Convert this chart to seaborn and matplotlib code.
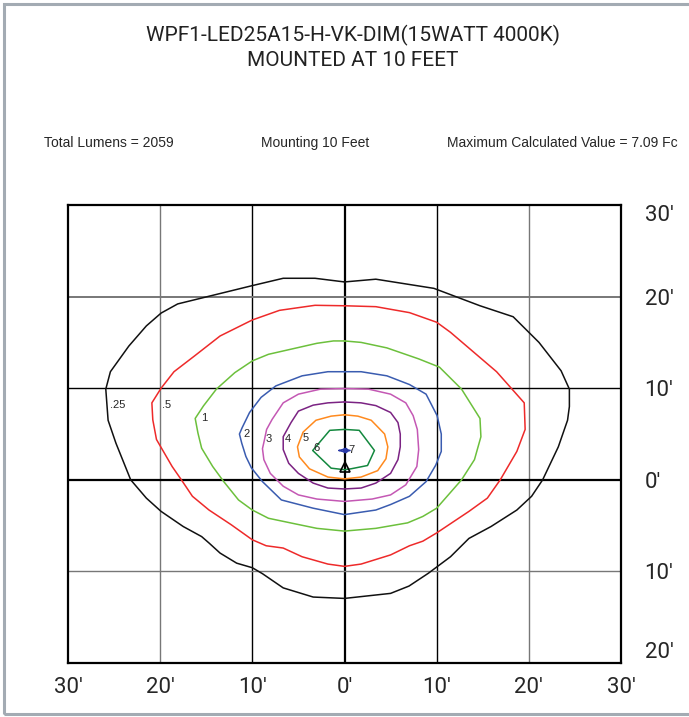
import matplotlib
matplotlib.use("Agg")
import matplotlib.pyplot as plt
import matplotlib.patches as patches
import pandas as pd
import seaborn as sns

sns.set_theme(style="white")
plt.rcParams['font.family'] = ['Liberation Sans', 'DejaVu Sans']

# isofootcandle contours (feet)
c025_x = [0, 3.4, 9.7, 14.7, 18.3, 21.1, 23.5, 24.4, 24.4, 24.2, 23.2, 21.5, 20.3, 18.7, 15.9, 13.5,
          11.5, 9.1, 7.0, 5.0, 0, -3.4, -6.65, -8.9, -10, -11.7, -13.5, -14.7, -15.5, -17.5, -19.9,
          -21.5, -23.2, -24.8, -25.65, -25.9, -25.4, -23.4, -21.5, -19.9, -18.1, -10, -6.65, -3.2, 0]
c025_y = [21.6, 21.9, 20.9, 19.0, 17.8, 15.0, 11.9, 9.9, 8.0, 6.5, 3.6, 0, -1.8, -3.3, -5.1, -6.4,
          -8.4, -10.2, -11.6, -12.4, -12.95, -12.8, -11.8, -10.25, -9.6, -9.1, -8.0, -6.9, -6.2, -5.1,
          -3.45, -2.0, 0, 4.0, 6.5, 9.9, 11.8, 14.6, 16.8, 18.2, 19.2, 21.2, 22.0, 22.0, 21.6]

c05_x = [0, 3.4, 7.05, 10, 11.5, 16.5, 19.5, 19.6, 18.7, 16.9, 15.5, 13.5, 10, 8.5, 7.05, 5.0, 1.8, 0,
         -1.8, -4.6, -6.65, -8.5, -10, -12.3, -14.7, -16.5, -17.7, -18.7, -20.4, -20.8, -20.9, -19.9,
         -18.5, -16.3, -13.5, -10, -7.05, -3.2, 0]
c05_y = [19.0, 18.9, 18.25, 17.2, 16.1, 11.8, 8.4, 5.5, 3.1, 0, -2.0, -3.45, -5.8, -6.7, -7.2, -8.2,
         -9.2, -9.45, -9.2, -8.4, -7.45, -7.2, -6.55, -4.9, -3.3, -1.8, 0, 1.45, 4.4, 6.55, 8.4, 10.0,
         11.8, 13.5, 15.7, 17.45, 18.5, 19.05, 19.0]

c1_x = [0, 1.8, 4.6, 8.05, 10.3, 12.7, 14.7, 14.8, 14.1, 12.7, 10, 8.5, 6.85, 3.4, 0, -3.0, -5.4,
        -8.25, -10, -11.5, -13.1, -14.3, -15.5, -15.9, -16.2, -15.3, -13.9, -11.9, -10, -8.25, -3.0, -1.2, 0]
c1_y = [15.16, 15.0, 14.4, 13.2, 12.3, 9.9, 6.7, 4.7, 2.2, 0, -3.1, -4.0, -4.7, -5.3, -5.6, -5.3, -4.8,
        -4.2, -3.3, -2.2, -0.2, 1.45, 3.45, 5.1, 6.7, 8.07, 9.9, 11.7, 12.98, 13.7, 14.9, 15.16, 15.16]

c2_x = [0, 1.8, 4.6, 7.05, 8.85, 10.05, 10.5, 10.5, 9.9, 8.85, 7.05, 5.0, 3.4, 0, -3.4, -6.85, -8.9,
        -10.1, -10.7, -11.15, -11.4, -11.1, -10.3, -9.05, -7.45, -4.6, -1.8, 0]
c2_y = [11.8, 11.8, 11.35, 10.4, 9.35, 7.0, 5.0, 3.1, 1.6, -0.2, -1.8, -2.7, -3.3, -3.8, -3.1, -2.2,
        -0.2, 1.3, 2.55, 4.0, 5.0, 5.7, 7.35, 9.0, 10.25, 11.35, 11.8, 11.8]

c3_x = [0, 2.6, 5.0, 6.65, 7.45, 7.9, 8.05, 7.85, 6.65, 5.0, 3.0, 0, -3.0, -5.0, -6.65, -8.05, -8.75,
        -8.9, -8.7, -8.45, -7.85, -6.65, -5.0, -2.6, 0]
c3_y = [9.96, 9.9, 9.35, 8.4, 7.0, 5.5, 3.3, 1.45, -0.55, -1.65, -2.1, -2.36, -2.1, -1.65, -0.7, 0.7,
        2.2, 3.4, 4.3, 5.5, 6.6, 8.4, 9.35, 9.9, 9.96]

c4_x = [0, 1.8, 3.4, 5.0, 5.8, 6.05, 6.05, 5.8, 5.0, 3.4, 1.8, 0, -1.8, -3.4, -5.0, -6.05, -6.65,
        -6.65, -5.8, -5.0, -3.4, -1.8, 0]
c4_y = [8.5, 8.4, 8.1, 7.35, 6.25, 5.0, 3.6, 2.2, 0.7, -0.36, -0.9, -1.0, -0.9, -0.36, 0.7, 1.8,
        3.3, 4.7, 6.25, 7.5, 8.15, 8.4, 8.5]

c5_x = [0, 1.45, 2.9, 4.35, 4.7, 4.5, 3.6, 1.8, 0, -1.8, -3.8, -4.9, -5.1, -4.5, -3.1, -1.45, 0]
c5_y = [7.1, 6.95, 6.5, 5.0, 3.6, 2.3, 1.0, 0.3, 0.1, 0.3, 1.2, 2.5, 3.6, 5.2, 6.5, 6.95, 7.1]

c6_x = [0, 1.6, 3.25, 2.5, 0.7, 0, -1.45, -3.45, -1.6, 0]
c6_y = [5.5, 5.4, 3.2, 1.56, 1.2, 1.1, 1.27, 3.2, 5.4, 5.5]

c7_x = [-0.6, 0, 0.6, 0, -0.6]
c7_y = [3.2, 3.35, 3.2, 3.05, 3.2]

levels = ['.25', '.5', '1', '2', '3', '4', '5', '6', '7']
level_colors = ['#111111', '#ee2a2a', '#6cc03c', '#3a5cb0', '#c458b4', '#7b2383', '#ff8a1e',
                '#13883e', '#2a3aa8']
label_x = [-24.6, -19.3, -15.2, -10.6, -8.2, -6.1, -4.2, -3.0, 0.75]
label_y = [8.2, 8.2, 6.8, 5.0, 4.4, 4.4, 4.6, 3.5, 3.3]

luminaire = (0, 1.35)
ticks = [-30, -20, -10, 0, 10, 20, 30]
tick_text = ["30\u2032", "20\u2032", "10\u2032", "0\u2032", "10\u2032", "20\u2032", "30\u2032"]
yticks = [-20, -10, 0, 10, 20, 30]
ytick_text = ["20\u2032", "10\u2032", "0\u2032", "10\u2032", "20\u2032", "30\u2032"]

xs = [c025_x, c05_x, c1_x, c2_x, c3_x, c4_x, c5_x, c6_x, c7_x]
ys = [c025_y, c05_y, c1_y, c2_y, c3_y, c4_y, c5_y, c6_y, c7_y]
rows = []
for lev, cx, cy in zip(levels, xs, ys):
    for i, (a, b) in enumerate(zip(cx, cy)):
        rows.append({'level': lev, 'order': i, 'x': a, 'y': b})
df = pd.DataFrame(rows)

fig = plt.figure(figsize=(6.89, 7.17), dpi=100)
ax = fig.add_axes([68 / 689, 1 - 663 / 717, 553 / 689, 458 / 717])

# grid
for g in [-20, 20]:
    ax.axvline(g, color='#777777', lw=1.0, zorder=1)
for g in [-10, 10]:
    ax.axvline(g, color='black', lw=1.0, zorder=1)
ax.axvline(0, color='black', lw=1.6, zorder=1)
for g in [20, -10]:
    ax.axhline(g, color='#777777', lw=1.4 if g == 20 else 1.0, zorder=1)
ax.axhline(10, color='black', lw=1.0, zorder=1)
ax.axhline(0, color='black', lw=1.6, zorder=1)

sns.lineplot(data=df, x='x', y='y', hue='level', units='level', estimator=None, sort=False,
             palette=dict(zip(levels, level_colors)), lw=1.1, legend=False, ax=ax, zorder=3)

lab_font = ['Liberation Sans', 'DejaVu Sans']
for lev, lx, ly in zip(levels, label_x, label_y):
    ax.text(lx, ly, lev, fontsize=8, ha='center', va='center', family=lab_font, zorder=4)

ax.plot([0], [3.2], marker='o', ms=3, color='#2a3aa8', zorder=5)
ax.plot([luminaire[0]], [luminaire[1]], marker='^', ms=7, mfc='none', mec='black', mew=1.2, zorder=5)

ax.set_xlim(-30, 30)
ax.set_ylim(-20, 30)
ax.set_xlabel('')
ax.set_ylabel('')
tick_font = ['Roboto', 'DejaVu Sans']
ax.set_xticks(ticks)
ax.set_xticklabels(tick_text, fontsize=16, family=tick_font)
ax.yaxis.tick_right()
ax.set_yticks(yticks)
ax.set_yticklabels(ytick_text, fontsize=16, family=tick_font)
ax.tick_params(axis='x', length=0, pad=10)
ax.tick_params(axis='y', length=0, pad=17)
labs = ax.get_yticklabels()
labs[0].set_va('bottom')
labs[-1].set_va('top')
for s in ax.spines.values():
    s.set_visible(True)
    s.set_color('black')
    s.set_linewidth(1.6)

fig.text(353 / 689, 1 - 35 / 717, "WPF1-LED25A15-H-VK-DIM(15WATT 4000K)", ha='center', va='center',
         fontsize=15, family=tick_font, color='#222222')
fig.text(353 / 689, 1 - 61 / 717, "MOUNTED AT 10 FEET", ha='center', va='center',
         fontsize=15, family=tick_font, color='#222222')
fig.text(44 / 689, 1 - 143 / 717, "Total Lumens = 2059", ha='left', va='center', fontsize=10)
fig.text(315 / 689, 1 - 143 / 717, "Mounting 10 Feet", ha='center', va='center', fontsize=10)
fig.text(678 / 689, 1 - 143 / 717, "Maximum Calculated Value = 7.09 Fc", ha='right', va='center',
         fontsize=10)

fig.add_artist(patches.Rectangle((3.5 / 689, 3.5 / 717), 1.0, 1 - 7 / 717, transform=fig.transFigure,
                                 fill=False, edgecolor='#a3abb3', lw=2.2))

fig.savefig("out.png", dpi=100)
